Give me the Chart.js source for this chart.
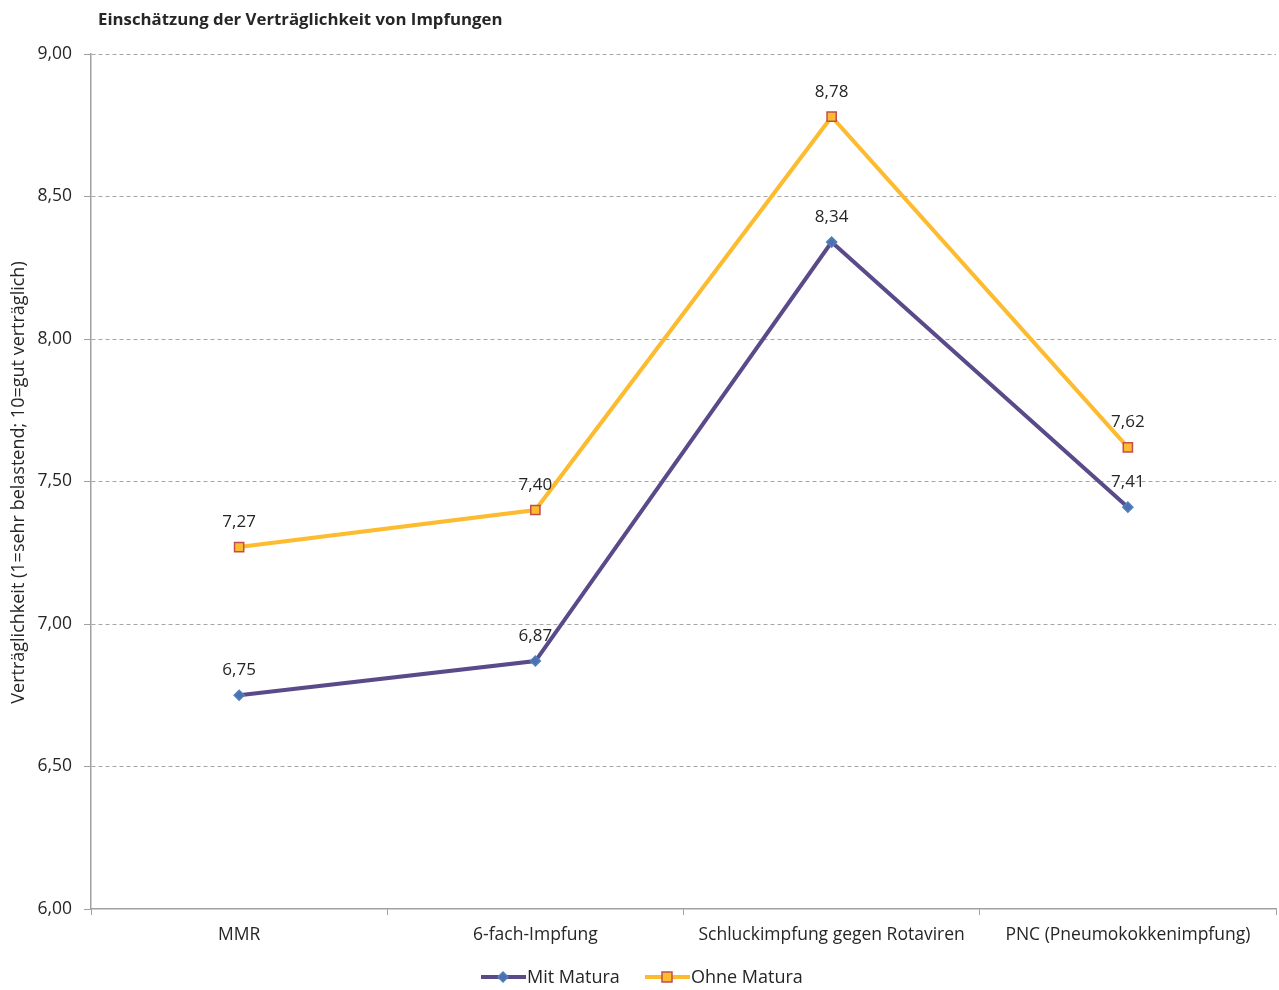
<!DOCTYPE html>
<html lang="de">
<head>
<meta charset="utf-8">
<title>Einschätzung der Verträglichkeit von Impfungen</title>
<script src="https://cdn.jsdelivr.net/npm/chart.js@4"></script>
<style>
    html, body { margin: 0; padding: 0; background: #fff; }
    #chart { display: block; }
</style>
</head>
<body>
<canvas id="chart" width="1279" height="990"></canvas>
<script>
// Impfungen (Kategorien) und Mittelwerte je Bildungsgruppe
const categories = ['MMR', '6-fach-Impfung', 'Schluckimpfung gegen Rotaviren', 'PNC (Pneumokokkenimpfung)'];
const mitMatura = [6.75, 6.87, 8.34, 7.41];
const ohneMatura = [7.27, 7.40, 8.78, 7.62];
const yTicks = [6.00, 6.50, 7.00, 7.50, 8.00, 8.50, 9.00];

const FONT = '"Open Sans", sans-serif';
const TEXT = '#262626';

function fmt(v) {
    return v.toFixed(2).replace('.', ',');
}

/**
 * Title, axis title, value labels and legend drawn straight onto the canvas
 */
const decorations = {
    id: 'decorations',
    afterDatasetsDraw(chart) {
        const ctx = chart.ctx;
        const area = chart.chartArea;
        ctx.save();

        // value labels above each point
        ctx.font = '17px ' + FONT;
        ctx.fillStyle = TEXT;
        ctx.textAlign = 'center';
        ctx.textBaseline = 'middle';
        chart.data.datasets.forEach((ds, i) => {
            chart.getDatasetMeta(i).data.forEach((pt, j) => {
                ctx.fillText(fmt(ds.data[j]), pt.x, pt.y - 25);
            });
        });

        // title
        ctx.font = 'bold 16.8px ' + FONT;
        ctx.textAlign = 'left';
        ctx.fillText('Einschätzung der Verträglichkeit von Impfungen', 98, 20);

        // y axis title
        ctx.font = '18px ' + FONT;
        ctx.translate(19, (area.top + area.bottom) / 2 + 1);
        ctx.rotate(-Math.PI / 2);
        ctx.textAlign = 'center';
        ctx.fillText('Verträglichkeit (1=sehr belastend; 10=gut verträglich)', 0, 0);
        ctx.restore();

        // legend
        ctx.save();
        const ly = 977;
        const items = [
            { x: 481, ds: chart.data.datasets[0], label: 'Mit Matura' },
            { x: 645, ds: chart.data.datasets[1], label: 'Ohne Matura' }
        ];
        items.forEach(it => {
            ctx.strokeStyle = it.ds.borderColor;
            ctx.lineWidth = 4;
            ctx.beginPath();
            ctx.moveTo(it.x, ly);
            ctx.lineTo(it.x + 45, ly);
            ctx.stroke();
            const cx = it.x + 22;
            ctx.fillStyle = it.ds.pointBackgroundColor;
            ctx.strokeStyle = it.ds.pointBorderColor;
            ctx.lineWidth = 1.5;
            ctx.beginPath();
            if (it.ds.pointStyle === 'rectRot') {
                ctx.moveTo(cx, ly - 5);
                ctx.lineTo(cx + 5, ly);
                ctx.lineTo(cx, ly + 5);
                ctx.lineTo(cx - 5, ly);
                ctx.closePath();
            } else {
                ctx.rect(cx - 5, ly - 5, 10, 10);
            }
            ctx.fill();
            ctx.stroke();
            ctx.fillStyle = TEXT;
            ctx.font = '18px ' + FONT;
            ctx.textAlign = 'left';
            ctx.textBaseline = 'middle';
            ctx.fillText(it.label, it.x + 46, ly + 1);
        });
        ctx.restore();
    }
};

new Chart(document.getElementById('chart'), {
    type: 'line',
    data: {
        labels: categories,
        datasets: [{
            label: 'Mit Matura',
            data: mitMatura,
            borderColor: '#5A4A8A',
            borderWidth: 4,
            pointStyle: 'rectRot',
            pointRadius: 5,
            pointBackgroundColor: '#4F6FB0',
            pointBorderColor: '#4F81BD',
            pointBorderWidth: 1.5,
            tension: 0
        }, {
            label: 'Ohne Matura',
            data: ohneMatura,
            borderColor: '#FDBB2F',
            borderWidth: 4,
            pointStyle: 'rect',
            pointRadius: 6.5,
            pointBackgroundColor: '#FDBB2F',
            pointBorderColor: '#C0504D',
            pointBorderWidth: 1.5,
            tension: 0
        }]
    },
    options: {
        responsive: false,
        animation: false,
        layout: { autoPadding: false, padding: { left: 0, top: 54, right: 3, bottom: 0 } },
        plugins: {
            legend: { display: false },
            title: { display: false },
            tooltip: { enabled: false }
        },
        scales: {
            x: {
                offset: true,
                grid: {
                    offset: true,
                    drawOnChartArea: false,
                    drawTicks: true,
                    tickLength: 6,
                    tickColor: '#A0A0A0'
                },
                border: { display: true, color: '#A0A0A0', width: 1.5 },
                ticks: {
                    color: TEXT,
                    font: { family: FONT, size: 17.5 },
                    padding: 10,
                    maxRotation: 0
                },
                afterFit(scale) {
                    scale.height = 81;
                    scale.paddingLeft = 0;
                    scale.paddingRight = 0;
                }
            },
            y: {
                min: 6,
                max: 9,
                afterBuildTicks(scale) {
                    scale.ticks = yTicks.map(v => ({ value: v }));
                },
                grid: {
                    color: ctx => ctx.tick && ctx.tick.value === 6 ? 'rgba(0,0,0,0)' : '#A6A6A6',
                    tickColor: '#A0A0A0',
                    tickLength: 7,
                    lineWidth: 1
                },
                border: { display: true, color: '#A0A0A0', width: 1.5, dash: [4, 3] },
                ticks: {
                    color: TEXT,
                    font: { family: FONT, size: 17.5 },
                    padding: 12,
                    callback: v => fmt(v)
                },
                afterFit(scale) { scale.width = 91; }
            }
        }
    },
    plugins: [decorations]
});
</script>
</body>
</html>
